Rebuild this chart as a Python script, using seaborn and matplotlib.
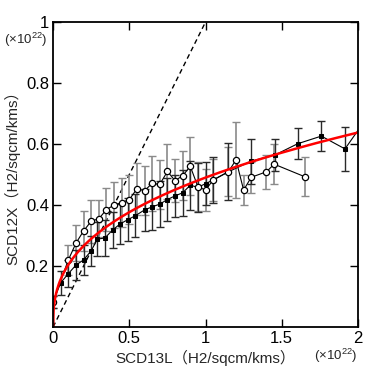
import matplotlib.pyplot as plt
import seaborn as sns
import numpy as np
import pandas as pd

sns.set_style("ticks")
plt.rcParams['font.family'] = ['Liberation Sans', 'Noto Sans CJK JP', 'DejaVu Sans']
plt.rcParams['axes.unicode_minus'] = False
plt.rcParams['mathtext.fontset'] = 'custom'
plt.rcParams['mathtext.rm'] = 'Liberation Sans'
plt.rcParams['mathtext.default'] = 'rm'

# ---------- data (units of 1e22) ----------
open_x = [0.0, 0.10, 0.15, 0.20, 0.25, 0.30, 0.35, 0.40, 0.45, 0.50, 0.55, 0.60, 0.65, 0.70,
          0.75, 0.80, 0.85, 0.90, 0.95, 1.00, 1.05, 1.15, 1.20, 1.25, 1.30, 1.40, 1.45, 1.65]
open_y = [0.083, 0.220, 0.275, 0.315, 0.347, 0.355, 0.385, 0.400, 0.408, 0.418, 0.453, 0.447, 0.471, 0.468,
          0.510, 0.480, 0.496, 0.527, 0.460, 0.449, 0.482, 0.509, 0.548, 0.449, 0.491, 0.509, 0.534, 0.493]
open_err = [0.02, 0.05, 0.06, 0.065, 0.07, 0.06, 0.07, 0.075, 0.08, 0.08, 0.085, 0.08, 0.09, 0.08,
            0.09, 0.07, 0.08, 0.095, 0.08, 0.07, 0.07, 0.08, 0.125, 0.05, 0.05, 0.055, 0.065, 0.065]

filled_x = [0.0, 0.05, 0.10, 0.15, 0.20, 0.25, 0.29, 0.34, 0.39, 0.44, 0.49, 0.54, 0.60, 0.65,
            0.70, 0.75, 0.80, 0.85, 0.90, 0.95, 1.00, 1.05, 1.15, 1.30, 1.455, 1.605, 1.76, 1.915, 2.05]
filled_y = [0.083, 0.145, 0.175, 0.203, 0.220, 0.250, 0.288, 0.292, 0.318, 0.338, 0.352, 0.365, 0.384, 0.394,
            0.403, 0.418, 0.430, 0.440, 0.465, 0.458, 0.470, 0.482, 0.509, 0.544, 0.564, 0.601, 0.626, 0.584, 0.680]
filled_err = [0.02, 0.04, 0.045, 0.05, 0.05, 0.05, 0.055, 0.06, 0.06, 0.065, 0.07, 0.07, 0.07, 0.075,
              0.075, 0.07, 0.07, 0.075, 0.08, 0.08, 0.07, 0.075, 0.094, 0.074, 0.052, 0.05, 0.049, 0.072, 0.05]

# power-law fit  y = a * x^b
fit_a = 0.49
fit_b = 0.38

df_open = pd.DataFrame({'x': open_x, 'y': open_y, 'err': open_err})
df_filled = pd.DataFrame({'x': filled_x, 'y': filled_y, 'err': filled_err})

fig = plt.figure(figsize=(3.82, 3.71), dpi=100)
ax = fig.add_axes([0.139, 0.1186, 0.798, 0.822])

# 1:1 dashed line
ax.plot([0, 1.2], [0, 1.2], ls=(0, (3.5, 2.5)), color='black', lw=1.0)

# error bars
ax.errorbar(df_open['x'], df_open['y'], yerr=df_open['err'], fmt='none',
            ecolor='#8a8a8a', elinewidth=1.2, capsize=3, capthick=1.0)
ax.errorbar(df_filled['x'], df_filled['y'], yerr=df_filled['err'], fmt='none',
            ecolor='#2a2a2a', elinewidth=1.0, capsize=3, capthick=1.0)

# series
sns.lineplot(data=df_filled, x='x', y='y', ax=ax, color='black', lw=0.8, sort=False,
             marker='s', markersize=2.5, markerfacecolor='black', markeredgecolor='black')
sns.lineplot(data=df_open, x='x', y='y', ax=ax, color='black', lw=0.8, sort=False,
             marker='o', markersize=4.5, markerfacecolor='white', markeredgecolor='black',
             markeredgewidth=0.9)

# fit curve
fx = np.linspace(0, 2, 600)
ax.plot(fx, fit_a * fx ** fit_b, color='red', lw=1.8)

ax.set_xlim(0, 2)
ax.set_ylim(0, 1)
ax.set_xticks([0, 0.5, 1, 1.5, 2])
ax.set_xticklabels(['0', '0.5', '1', '1.5', '2'])
ax.set_yticks([0.2, 0.4, 0.6, 0.8, 1])
ax.set_yticklabels(['0.2', '0.4', '0.6', '0.8', '1'])
ax.tick_params(direction='in', length=6, width=1.0, top=True, right=True,
               labelsize=12, pad=3, colors='black')
for s in ax.spines.values():
    s.set_linewidth(1.3)
    s.set_color('black')

ax.set_xlabel('SCD13L（H2/sqcm/kms）', fontsize=11, labelpad=3)
ax.set_ylabel('SCD12X（H2/sqcm/kms）', fontsize=11, labelpad=4)

mult = '(×10$^{22}$)'
fig.text(0.068, 0.893, mult, fontsize=9.5, ha='center', va='center')
fig.text(0.878, 0.040, mult, fontsize=9.5, ha='center', va='center')

fig.savefig('out.png', dpi=100)
